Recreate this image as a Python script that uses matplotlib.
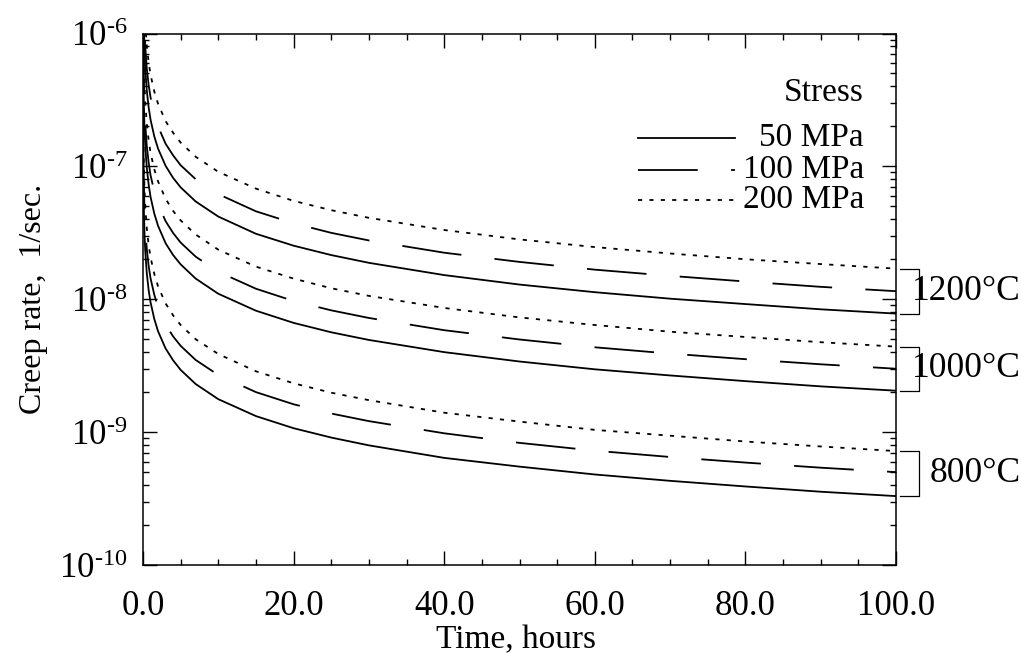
import numpy as np
import matplotlib
matplotlib.use('Agg')
import matplotlib.pyplot as plt
import matplotlib.transforms as mtransforms
from matplotlib.ticker import MultipleLocator, LogLocator, FixedLocator, FixedFormatter, NullFormatter
from matplotlib.lines import Line2D

plt.rcParams['font.family'] = ['Liberation Serif', 'DejaVu Serif']
plt.rcParams['mathtext.fontset'] = 'custom'
plt.rcParams['mathtext.rm'] = 'Liberation Serif'
plt.rcParams['mathtext.it'] = 'Liberation Serif:italic'
plt.rcParams['lines.scale_dashes'] = False

# time, hours
time_h = [0.001, 0.01, 0.05, 0.1, 0.2, 0.3, 0.5, 0.75, 1, 1.5, 2, 3, 4, 5, 7, 10,
          15, 20, 25, 30, 40, 50, 60, 70, 80, 90, 100]

# creep rate, 1/sec  (temperature / stress)
rate_1200_50 = [3.5e-5, 6.48e-6, 2.0e-6, 1.21e-6, 7.29e-7, 5.42e-7, 3.73e-7, 2.78e-7, 2.25e-7,
                1.68e-7, 1.36e-7, 1.01e-7, 8.19e-8, 6.95e-8, 5.44e-8, 4.19e-8, 3.11e-8, 2.53e-8,
                2.15e-8, 1.88e-8, 1.52e-8, 1.29e-8, 1.13e-8, 1.01e-8, 9.2e-9, 8.4e-9, 7.8e-9]
rate_1200_100 = [5.1e-5, 9.6e-6, 2.96e-6, 1.78e-6, 1.07e-6, 8.0e-7, 5.5e-7, 4.09e-7, 3.31e-7,
                 2.47e-7, 2.0e-7, 1.48e-7, 1.21e-7, 1.02e-7, 8.0e-8, 6.18e-8, 4.59e-8, 3.73e-8,
                 3.16e-8, 2.77e-8, 2.24e-8, 1.91e-8, 1.67e-8, 1.50e-8, 1.36e-8, 1.24e-8, 1.15e-8]
rate_1200_200 = [7.6e-5, 1.41e-5, 4.37e-6, 2.64e-6, 1.59e-6, 1.18e-6, 8.1e-7, 6.05e-7, 4.9e-7,
                 3.66e-7, 2.96e-7, 2.19e-7, 1.79e-7, 1.51e-7, 1.18e-7, 9.1e-8, 6.8e-8, 5.5e-8,
                 4.68e-8, 4.1e-8, 3.32e-8, 2.82e-8, 2.47e-8, 2.21e-8, 2.0e-8, 1.84e-8, 1.70e-8]
rate_1000_50 = [9.2e-6, 1.70e-6, 5.3e-7, 3.18e-7, 1.91e-7, 1.42e-7, 9.8e-8, 7.3e-8, 5.9e-8,
                4.41e-8, 3.57e-8, 2.64e-8, 2.15e-8, 1.83e-8, 1.43e-8, 1.10e-8, 8.2e-9, 6.64e-9,
                5.64e-9, 4.94e-9, 4.0e-9, 3.40e-9, 2.97e-9, 2.67e-9, 2.42e-9, 2.21e-9, 2.05e-9]
rate_1000_100 = [1.34e-5, 2.49e-6, 7.7e-7, 4.65e-7, 2.8e-7, 2.09e-7, 1.43e-7, 1.07e-7, 8.6e-8,
                 6.45e-8, 5.2e-8, 3.87e-8, 3.15e-8, 2.67e-8, 2.09e-8, 1.61e-8, 1.20e-8, 9.7e-9,
                 8.25e-9, 7.23e-9, 5.85e-9, 4.98e-9, 4.35e-9, 3.9e-9, 3.54e-9, 3.24e-9, 3.0e-9]
rate_1000_200 = [1.96e-5, 3.66e-6, 1.13e-6, 6.8e-7, 4.11e-7, 3.06e-7, 2.1e-7, 1.57e-7, 1.27e-7,
                 9.5e-8, 7.7e-8, 5.7e-8, 4.62e-8, 3.92e-8, 3.07e-8, 2.36e-8, 1.76e-8, 1.43e-8,
                 1.21e-8, 1.06e-8, 8.6e-9, 7.3e-9, 6.4e-9, 5.7e-9, 5.2e-9, 4.75e-9, 4.4e-9]
rate_800_50 = [1.47e-6, 2.74e-7, 8.5e-8, 5.1e-8, 3.08e-8, 2.29e-8, 1.58e-8, 1.17e-8, 9.5e-9,
               7.1e-9, 5.74e-9, 4.26e-9, 3.47e-9, 2.94e-9, 2.30e-9, 1.77e-9, 1.32e-9, 1.07e-9,
               9.1e-10, 7.95e-10, 6.4e-10, 5.5e-10, 4.8e-10, 4.3e-10, 3.9e-10, 3.56e-10, 3.3e-10]
rate_800_100 = [2.23e-6, 4.16e-7, 1.29e-7, 7.8e-8, 4.67e-8, 3.48e-8, 2.39e-8, 1.78e-8, 1.44e-8,
                1.08e-8, 8.7e-9, 6.45e-9, 5.25e-9, 4.46e-9, 3.49e-9, 2.69e-9, 2.0e-9, 1.62e-9,
                1.38e-9, 1.21e-9, 9.8e-10, 8.3e-10, 7.25e-10, 6.5e-10, 5.9e-10, 5.4e-10, 5.0e-10]
rate_800_200 = [3.21e-6, 5.98e-7, 1.85e-7, 1.12e-7, 6.7e-8, 5.0e-8, 3.44e-8, 2.56e-8, 2.07e-8,
                1.55e-8, 1.25e-8, 9.3e-9, 7.56e-9, 6.4e-9, 5.0e-9, 3.87e-9, 2.87e-9, 2.33e-9,
                1.98e-9, 1.74e-9, 1.40e-9, 1.20e-9, 1.04e-9, 9.4e-10, 8.5e-10, 7.8e-10, 7.2e-10]

stress_labels = ['50 MPa', '100 MPa', '200 MPa']
temp_labels = ['1200°C', '1000°C', '800°C']
groups = [
    [rate_1200_50, rate_1200_100, rate_1200_200],
    [rate_1000_50, rate_1000_100, rate_1000_200],
    [rate_800_50, rate_800_100, rate_800_200],
]
# time where the first visible long dash of the 100 MPa curves begins
dash_start_h = [2.3, 2.7, 3.6]

x_ticks = [0, 20, 40, 60, 80, 100]
y_ticks = [1e-10, 1e-9, 1e-8, 1e-7, 1e-6]
y_ticklabels = ['$10^{\\text{-10}}$', '$10^{\\text{-9}}$', '$10^{\\text{-8}}$',
                '$10^{\\text{-7}}$', '$10^{\\text{-6}}$']

DASH = (43, 24)
DOT = (3, 5.2)
lw = 1.3

fig = plt.figure(figsize=(10.21, 6.53), dpi=100)
ax = fig.add_axes([143 / 1021, 1 - 565 / 653, 753 / 1021, 531.5 / 653])
ax.set_yscale('log')
ax.set_xlim(0, 100)
ax.set_ylim(1e-10, 1e-6)


def dash_offset(x, y, t_on, pattern):
    # phase so that a dash starts at t_on (dashing begins where the path enters the canvas)
    pts = ax.transData.transform(np.column_stack([x, y]))
    top = fig.bbox.height + 1
    i = np.argmax(pts[:, 1] <= top)
    if i > 0:
        p0, p1 = pts[i - 1], pts[i]
        f = (p0[1] - top) / (p0[1] - p1[1])
        start = p0 + f * (p1 - p0)
    else:
        start = pts[0]
    path = [start]
    for k in range(i, len(x)):
        if x[k] >= t_on:
            p0 = path[-1]
            p1 = pts[k]
            x0 = ax.transData.inverted().transform(p0)[0]
            f = (t_on - x0) / (x[k] - x0)
            path.append(p0 + f * (p1 - p0))
            break
        path.append(pts[k])
    path = np.array(path)
    length = np.sum(np.hypot(*np.diff(path, axis=0).T)) * 72 / fig.dpi
    period = sum(pattern)
    return (-length) % period


for grp, t_on in zip(groups, dash_start_h):
    ax.plot(time_h, grp[0], color='black', lw=lw, linestyle='-')
    ax.plot(time_h, grp[1], color='black', lw=lw,
            linestyle=(dash_offset(time_h, grp[1], t_on, DASH), DASH))
    ax.plot(time_h, grp[2], color='black', lw=lw, linestyle=(0, DOT))

ax.xaxis.set_major_locator(FixedLocator(x_ticks))
ax.xaxis.set_major_formatter(FixedFormatter(['%.1f' % v for v in x_ticks]))
ax.xaxis.set_minor_locator(MultipleLocator(5))
ax.yaxis.set_major_locator(FixedLocator(y_ticks))
ax.yaxis.set_major_formatter(FixedFormatter(y_ticklabels))
ax.yaxis.set_minor_locator(LogLocator(base=10, subs=range(2, 10)))
ax.yaxis.set_minor_formatter(NullFormatter())

ax.tick_params(which='both', direction='in', top=True, right=True, width=1.0)
ax.tick_params(which='major', length=10, labelsize=25)
ax.tick_params(axis='x', which='major', pad=18)
ax.tick_params(axis='y', which='major', pad=11)
ax.tick_params(which='minor', length=4.5)
for sp in ax.spines.values():
    sp.set_linewidth(1.1)

ax.set_xlabel('Time, hours', fontsize=24)
ax.xaxis.set_label_coords(0.495, -0.112)
ax.set_ylabel('Creep rate,  1/sec.', fontsize=23)
ax.yaxis.set_label_coords(-0.126, 0.5)

# stress key
ax.text(0.9575, 0.888, 'Stress', transform=ax.transAxes, ha='right', va='center', fontsize=24)
key_y = [0.803, 0.744, 0.687]
key_styles = ['-', (0, DASH), (0, DOT)]
for lab, ls, ky in zip(stress_labels, key_styles, key_y):
    ax.add_line(Line2D([0.657, 0.786], [ky, ky], transform=ax.transAxes,
                       color='black', lw=lw, linestyle=ls))
    ax.text(0.9575, ky, lab, transform=ax.transAxes, ha='right', va='center', fontsize=24)

# temperature brackets at the right end of each group
trans = mtransforms.blended_transform_factory(ax.transAxes, ax.transData)
for grp, lab in zip(groups, temp_labels):
    lo = grp[0][-1]
    hi = grp[2][-1]
    ax.plot([1.005, 1.031, 1.031, 1.005], [hi, hi, lo, lo], transform=trans,
            color='black', lw=0.9, clip_on=False)
    ax.text(1.166, (lo * hi) ** 0.5, lab, transform=trans, ha='right', va='center',
            fontsize=25.5)

fig.savefig('out.png', dpi=100)
